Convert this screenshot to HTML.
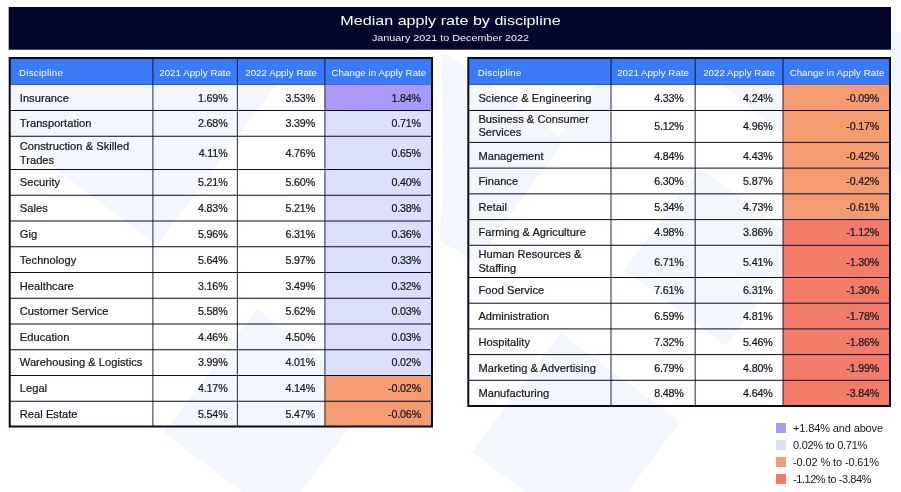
<!DOCTYPE html>
<html lang="en"><head><meta charset="utf-8"><title>Median apply rate by discipline</title>
<style>
html,body{margin:0;padding:0}
body{width:901px;height:492px;position:relative;overflow:hidden;background:#fff;font-family:"Liberation Sans",Arial,sans-serif;color:#16161f}
.wm{position:absolute;left:0;top:0;width:901px;height:492px}
.title{position:absolute;left:0;top:0;width:901px;height:60px;color:#fff;text-align:center}
.title svg{position:absolute;left:0;top:0}
.title .t1{position:absolute;left:0;right:0;top:12.2px;font-size:12.9px;line-height:18px;white-space:nowrap;transform:scaleX(1.25);transform-origin:450.5px 0}
.title .t2{position:absolute;left:0;right:0;top:32.2px;font-size:9.4px;line-height:12px;white-space:nowrap;color:#f1f2fa;transform:scaleX(1.15);transform-origin:450.5px 0}
.tbl{position:absolute}
.ov{position:absolute;left:0;top:0;z-index:1}
.hd{position:absolute;background:#397af6}
.hc{position:absolute;z-index:2;color:#fff;font-size:9.7px;display:flex;align-items:center;justify-content:center;white-space:nowrap;letter-spacing:.05px;padding-top:1px;box-sizing:border-box}
.hc.first{justify-content:flex-start}
.hc.first span{padding-left:10.4px;letter-spacing:.25px}
.c{position:absolute;z-index:2;font-size:11.1px;line-height:13.8px;display:flex;align-items:center;box-sizing:border-box;padding-top:2.4px;-webkit-text-stroke:.22px #16161f}
.c.two{padding-top:1.8px}
.c.name{padding-left:11.1px;letter-spacing:.04px}
.c.num{justify-content:flex-end;padding-right:10.5px;font-size:10.7px;letter-spacing:-.15px}
.c.num.last{padding-right:11.5px}
.lsq{position:absolute;left:776px;width:10px;height:10px}
.ltx{position:absolute;left:793px;font-size:11px;line-height:14px;white-space:nowrap;letter-spacing:-.05px}
</style></head><body>
<svg class="wm" viewBox="0 0 901 492"><g fill="#f3f6fd"><polygon points="9,57 297,57 157,245 9,134"/><polygon points="257,309 373,396 280,520 164,433"/><polygon points="561,333 680,422 591,541 472,452"/><polygon points="441,54 447,54 565,140 475,262 439,240 443,182"/><polygon points="596,84 611,84 611,142 556,142"/><polygon points="721,84 790,84 790,139"/><polygon points="892,32 901,32 901,176 892,170"/><polygon points="700,168 802,244 726,346 624,270"/></g>
</svg>
<div class="title"><svg width="901" height="60" viewBox="0 0 901 60"><rect x="8.7" y="7" width="882.3" height="42.7" fill="#05062c"/></svg><div class="t1">Median apply rate by discipline</div><div class="t2">January 2021 to December 2022</div></div>
<div class="tbl" id="tl" style="left:8px;top:57px;width:424.3px;height:370.5px">
<div class="hc first" style="left:0.7px;width:144.2px;top:2px;height:25.0px"><span>Discipline</span></div>
<div class="hc" style="left:144.9px;width:84.5px;top:2px;height:25.0px"><span>2021 Apply Rate</span></div>
<div class="hc" style="left:229.4px;width:87.5px;top:2px;height:25.0px"><span>2022 Apply Rate</span></div>
<div class="hc" style="left:316.9px;width:108.1px;top:2px;height:25.0px"><span>Change in Apply Rate</span></div>
<div class="c name" style="left:0.7px;width:144.2px;top:28.00px;height:25.00px"><span>Insurance</span></div>
<div class="c num" style="padding-right:9.9px;left:144.9px;width:84.5px;top:28.00px;height:25.00px"><span>1.69%</span></div>
<div class="c num" style="padding-right:9.9px;left:229.4px;width:87.5px;top:28.00px;height:25.00px"><span>3.53%</span></div>
<div class="c num" style="padding-right:12px;left:316.9px;width:108.1px;top:28.00px;height:25.00px"><span>1.84%</span></div>
<div class="c name" style="left:0.7px;width:144.2px;top:53.00px;height:24.75px"><span>Transportation</span></div>
<div class="c num" style="padding-right:9.9px;left:144.9px;width:84.5px;top:53.00px;height:24.75px"><span>2.68%</span></div>
<div class="c num" style="padding-right:9.9px;left:229.4px;width:87.5px;top:53.00px;height:24.75px"><span>3.39%</span></div>
<div class="c num" style="padding-right:12px;left:316.9px;width:108.1px;top:53.00px;height:24.75px"><span>0.71%</span></div>
<div class="c name two" style="left:0.7px;width:144.2px;top:79.75px;height:32.25px"><span>Construction &amp; Skilled<br>Trades</span></div>
<div class="c num" style="padding-right:9.9px;left:144.9px;width:84.5px;top:79.75px;height:32.25px"><span>4.11%</span></div>
<div class="c num" style="padding-right:9.9px;left:229.4px;width:87.5px;top:79.75px;height:32.25px"><span>4.76%</span></div>
<div class="c num" style="padding-right:12px;left:316.9px;width:108.1px;top:79.75px;height:32.25px"><span>0.65%</span></div>
<div class="c name" style="left:0.7px;width:144.2px;top:112.00px;height:24.75px"><span>Security</span></div>
<div class="c num" style="padding-right:9.9px;left:144.9px;width:84.5px;top:112.00px;height:24.75px"><span>5.21%</span></div>
<div class="c num" style="padding-right:9.9px;left:229.4px;width:87.5px;top:112.00px;height:24.75px"><span>5.60%</span></div>
<div class="c num" style="padding-right:12px;left:316.9px;width:108.1px;top:112.00px;height:24.75px"><span>0.40%</span></div>
<div class="c name" style="left:0.7px;width:144.2px;top:138.75px;height:24.75px"><span>Sales</span></div>
<div class="c num" style="padding-right:9.9px;left:144.9px;width:84.5px;top:138.75px;height:24.75px"><span>4.83%</span></div>
<div class="c num" style="padding-right:9.9px;left:229.4px;width:87.5px;top:138.75px;height:24.75px"><span>5.21%</span></div>
<div class="c num" style="padding-right:12px;left:316.9px;width:108.1px;top:138.75px;height:24.75px"><span>0.38%</span></div>
<div class="c name" style="left:0.7px;width:144.2px;top:164.50px;height:24.75px"><span>Gig</span></div>
<div class="c num" style="padding-right:9.9px;left:144.9px;width:84.5px;top:164.50px;height:24.75px"><span>5.96%</span></div>
<div class="c num" style="padding-right:9.9px;left:229.4px;width:87.5px;top:164.50px;height:24.75px"><span>6.31%</span></div>
<div class="c num" style="padding-right:12px;left:316.9px;width:108.1px;top:164.50px;height:24.75px"><span>0.36%</span></div>
<div class="c name" style="left:0.7px;width:144.2px;top:190.25px;height:24.75px"><span>Technology</span></div>
<div class="c num" style="padding-right:9.9px;left:144.9px;width:84.5px;top:190.25px;height:24.75px"><span>5.64%</span></div>
<div class="c num" style="padding-right:9.9px;left:229.4px;width:87.5px;top:190.25px;height:24.75px"><span>5.97%</span></div>
<div class="c num" style="padding-right:12px;left:316.9px;width:108.1px;top:190.25px;height:24.75px"><span>0.33%</span></div>
<div class="c name" style="left:0.7px;width:144.2px;top:216.00px;height:24.75px"><span>Healthcare</span></div>
<div class="c num" style="padding-right:9.9px;left:144.9px;width:84.5px;top:216.00px;height:24.75px"><span>3.16%</span></div>
<div class="c num" style="padding-right:9.9px;left:229.4px;width:87.5px;top:216.00px;height:24.75px"><span>3.49%</span></div>
<div class="c num" style="padding-right:12px;left:316.9px;width:108.1px;top:216.00px;height:24.75px"><span>0.32%</span></div>
<div class="c name" style="left:0.7px;width:144.2px;top:241.75px;height:24.75px"><span>Customer Service</span></div>
<div class="c num" style="padding-right:9.9px;left:144.9px;width:84.5px;top:241.75px;height:24.75px"><span>5.58%</span></div>
<div class="c num" style="padding-right:9.9px;left:229.4px;width:87.5px;top:241.75px;height:24.75px"><span>5.62%</span></div>
<div class="c num" style="padding-right:12px;left:316.9px;width:108.1px;top:241.75px;height:24.75px"><span>0.03%</span></div>
<div class="c name" style="left:0.7px;width:144.2px;top:267.50px;height:24.75px"><span>Education</span></div>
<div class="c num" style="padding-right:9.9px;left:144.9px;width:84.5px;top:267.50px;height:24.75px"><span>4.46%</span></div>
<div class="c num" style="padding-right:9.9px;left:229.4px;width:87.5px;top:267.50px;height:24.75px"><span>4.50%</span></div>
<div class="c num" style="padding-right:12px;left:316.9px;width:108.1px;top:267.50px;height:24.75px"><span>0.03%</span></div>
<div class="c name" style="left:0.7px;width:144.2px;top:292.25px;height:24.75px"><span>Warehousing &amp; Logistics</span></div>
<div class="c num" style="padding-right:9.9px;left:144.9px;width:84.5px;top:292.25px;height:24.75px"><span>3.99%</span></div>
<div class="c num" style="padding-right:9.9px;left:229.4px;width:87.5px;top:292.25px;height:24.75px"><span>4.01%</span></div>
<div class="c num" style="padding-right:12px;left:316.9px;width:108.1px;top:292.25px;height:24.75px"><span>0.02%</span></div>
<div class="c name" style="left:0.7px;width:144.2px;top:318.00px;height:24.75px"><span>Legal</span></div>
<div class="c num" style="padding-right:9.9px;left:144.9px;width:84.5px;top:318.00px;height:24.75px"><span>4.17%</span></div>
<div class="c num" style="padding-right:9.9px;left:229.4px;width:87.5px;top:318.00px;height:24.75px"><span>4.14%</span></div>
<div class="c num" style="padding-right:12px;left:316.9px;width:108.1px;top:318.00px;height:24.75px"><span>-0.02%</span></div>
<div class="c name" style="left:0.7px;width:144.2px;top:344.75px;height:24.25px"><span>Real Estate</span></div>
<div class="c num" style="padding-right:9.9px;left:144.9px;width:84.5px;top:344.75px;height:24.25px"><span>5.54%</span></div>
<div class="c num" style="padding-right:9.9px;left:229.4px;width:87.5px;top:344.75px;height:24.25px"><span>5.47%</span></div>
<div class="c num" style="padding-right:12px;left:316.9px;width:108.1px;top:344.75px;height:24.25px"><span>-0.06%</span></div>
<svg class="ov" style="left:-8px;top:-57px" width="901" height="492" viewBox="0 0 901 492"><defs><linearGradient id="pg" x1="0" y1="0" x2="1" y2="0"><stop offset="0" stop-color="#b198f6"/><stop offset="1" stop-color="#a59bf9"/></linearGradient></defs><g transform="translate(8.7,57.0)"><rect x="1" y="1" width="422.3" height="27.00" fill="#397af6"/><rect x="316.2" y="27.50" width="107.1" height="26.00" fill="url(#pg)"/><rect x="316.2" y="53.50" width="107.1" height="25.75" fill="#dcdffc"/><rect x="316.2" y="79.25" width="107.1" height="33.25" fill="#dcdffc"/><rect x="316.2" y="112.50" width="107.1" height="25.75" fill="#dcdffc"/><rect x="316.2" y="138.25" width="107.1" height="25.75" fill="#dcdffc"/><rect x="316.2" y="164.00" width="107.1" height="25.75" fill="#dcdffc"/><rect x="316.2" y="189.75" width="107.1" height="25.75" fill="#dcdffc"/><rect x="316.2" y="215.50" width="107.1" height="25.75" fill="#dcdffc"/><rect x="316.2" y="241.25" width="107.1" height="25.75" fill="#dcdffc"/><rect x="316.2" y="267.00" width="107.1" height="25.75" fill="#dcdffc"/><rect x="316.2" y="292.75" width="107.1" height="25.75" fill="#dcdffc"/><rect x="316.2" y="318.50" width="107.1" height="25.75" fill="#f59b71"/><rect x="316.2" y="344.25" width="107.1" height="25.25" fill="#f59b71"/><rect x="1" y="27.00" width="422.3" height="1" fill="#090a27" opacity=".28"/><rect x="1" y="53.00" width="422.3" height="1" fill="#090a27"/><rect x="1" y="78.75" width="422.3" height="1" fill="#090a27"/><rect x="1" y="112.00" width="422.3" height="1" fill="#090a27"/><rect x="1" y="137.75" width="422.3" height="1" fill="#090a27"/><rect x="1" y="163.50" width="422.3" height="1" fill="#090a27"/><rect x="1" y="189.25" width="422.3" height="1" fill="#090a27"/><rect x="1" y="215.00" width="422.3" height="1" fill="#090a27"/><rect x="1" y="240.75" width="422.3" height="1" fill="#090a27"/><rect x="1" y="266.50" width="422.3" height="1" fill="#090a27"/><rect x="1" y="292.25" width="422.3" height="1" fill="#090a27"/><rect x="1" y="318.00" width="422.3" height="1" fill="#090a27"/><rect x="1" y="343.75" width="422.3" height="1" fill="#090a27"/><rect x="143.65" y="1" width="1.1" height="368.5" fill="#090a27" opacity=".8"/><rect x="228.15" y="1" width="1.1" height="368.5" fill="#090a27" opacity=".8"/><rect x="315.65" y="1" width="1.1" height="368.5" fill="#090a27" opacity=".8"/><rect x="1" y="1" width="422.3" height="368.5" fill="none" stroke="#090a27" stroke-width="2"/></g></svg>
</div>
<div class="tbl" id="tr" style="left:467px;top:57px;width:423.7px;height:350.0px">
<div class="hc first" style="left:0.3px;width:143.7px;top:2px;height:25.0px"><span>Discipline</span></div>
<div class="hc" style="left:144.0px;width:84.2px;top:2px;height:25.0px"><span>2021 Apply Rate</span></div>
<div class="hc" style="left:228.2px;width:87.8px;top:2px;height:25.0px"><span>2022 Apply Rate</span></div>
<div class="hc" style="left:316.0px;width:108.0px;top:2px;height:25.0px"><span>Change in Apply Rate</span></div>
<div class="c name" style="left:0.3px;width:143.7px;top:28.00px;height:25.00px"><span>Science &amp; Engineering</span></div>
<div class="c num" style="padding-right:11.5px;left:144.0px;width:84.2px;top:28.00px;height:25.00px"><span>4.33%</span></div>
<div class="c num" style="padding-right:10.4px;left:228.2px;width:87.8px;top:28.00px;height:25.00px"><span>4.24%</span></div>
<div class="c num" style="padding-right:11.8px;left:316.0px;width:108.0px;top:28.00px;height:25.00px"><span>-0.09%</span></div>
<div class="c name two" style="left:0.3px;width:143.7px;top:53.00px;height:30.90px"><span>Business &amp; Consumer<br>Services</span></div>
<div class="c num" style="padding-right:11.5px;left:144.0px;width:84.2px;top:53.00px;height:30.90px"><span>5.12%</span></div>
<div class="c num" style="padding-right:10.4px;left:228.2px;width:87.8px;top:53.00px;height:30.90px"><span>4.96%</span></div>
<div class="c num" style="padding-right:11.8px;left:316.0px;width:108.0px;top:53.00px;height:30.90px"><span>-0.17%</span></div>
<div class="c name" style="left:0.3px;width:143.7px;top:85.90px;height:24.70px"><span>Management</span></div>
<div class="c num" style="padding-right:11.5px;left:144.0px;width:84.2px;top:85.90px;height:24.70px"><span>4.84%</span></div>
<div class="c num" style="padding-right:10.4px;left:228.2px;width:87.8px;top:85.90px;height:24.70px"><span>4.43%</span></div>
<div class="c num" style="padding-right:11.8px;left:316.0px;width:108.0px;top:85.90px;height:24.70px"><span>-0.42%</span></div>
<div class="c name" style="left:0.3px;width:143.7px;top:111.60px;height:24.75px"><span>Finance</span></div>
<div class="c num" style="padding-right:11.5px;left:144.0px;width:84.2px;top:111.60px;height:24.75px"><span>6.30%</span></div>
<div class="c num" style="padding-right:10.4px;left:228.2px;width:87.8px;top:111.60px;height:24.75px"><span>5.87%</span></div>
<div class="c num" style="padding-right:11.8px;left:316.0px;width:108.0px;top:111.60px;height:24.75px"><span>-0.42%</span></div>
<div class="c name" style="left:0.3px;width:143.7px;top:137.35px;height:24.75px"><span>Retail</span></div>
<div class="c num" style="padding-right:11.5px;left:144.0px;width:84.2px;top:137.35px;height:24.75px"><span>5.34%</span></div>
<div class="c num" style="padding-right:10.4px;left:228.2px;width:87.8px;top:137.35px;height:24.75px"><span>4.73%</span></div>
<div class="c num" style="padding-right:11.8px;left:316.0px;width:108.0px;top:137.35px;height:24.75px"><span>-0.61%</span></div>
<div class="c name" style="left:0.3px;width:143.7px;top:162.10px;height:24.70px"><span>Farming &amp; Agriculture</span></div>
<div class="c num" style="padding-right:11.5px;left:144.0px;width:84.2px;top:162.10px;height:24.70px"><span>4.98%</span></div>
<div class="c num" style="padding-right:10.4px;left:228.2px;width:87.8px;top:162.10px;height:24.70px"><span>3.86%</span></div>
<div class="c num" style="padding-right:11.8px;left:316.0px;width:108.0px;top:162.10px;height:24.70px"><span>-1.12%</span></div>
<div class="c name two" style="left:0.3px;width:143.7px;top:188.80px;height:31.20px"><span>Human Resources &amp;<br>Staffing</span></div>
<div class="c num" style="padding-right:11.5px;left:144.0px;width:84.2px;top:188.80px;height:31.20px"><span>6.71%</span></div>
<div class="c num" style="padding-right:10.4px;left:228.2px;width:87.8px;top:188.80px;height:31.20px"><span>5.41%</span></div>
<div class="c num" style="padding-right:11.8px;left:316.0px;width:108.0px;top:188.80px;height:31.20px"><span>-1.30%</span></div>
<div class="c name" style="left:0.3px;width:143.7px;top:220.00px;height:24.70px"><span>Food Service</span></div>
<div class="c num" style="padding-right:11.5px;left:144.0px;width:84.2px;top:220.00px;height:24.70px"><span>7.61%</span></div>
<div class="c num" style="padding-right:10.4px;left:228.2px;width:87.8px;top:220.00px;height:24.70px"><span>6.31%</span></div>
<div class="c num" style="padding-right:11.8px;left:316.0px;width:108.0px;top:220.00px;height:24.70px"><span>-1.30%</span></div>
<div class="c name" style="left:0.3px;width:143.7px;top:246.70px;height:24.70px"><span>Administration</span></div>
<div class="c num" style="padding-right:11.5px;left:144.0px;width:84.2px;top:246.70px;height:24.70px"><span>6.59%</span></div>
<div class="c num" style="padding-right:10.4px;left:228.2px;width:87.8px;top:246.70px;height:24.70px"><span>4.81%</span></div>
<div class="c num" style="padding-right:11.8px;left:316.0px;width:108.0px;top:246.70px;height:24.70px"><span>-1.78%</span></div>
<div class="c name" style="left:0.3px;width:143.7px;top:272.40px;height:24.70px"><span>Hospitality</span></div>
<div class="c num" style="padding-right:11.5px;left:144.0px;width:84.2px;top:272.40px;height:24.70px"><span>7.32%</span></div>
<div class="c num" style="padding-right:10.4px;left:228.2px;width:87.8px;top:272.40px;height:24.70px"><span>5.46%</span></div>
<div class="c num" style="padding-right:11.8px;left:316.0px;width:108.0px;top:272.40px;height:24.70px"><span>-1.86%</span></div>
<div class="c name" style="left:0.3px;width:143.7px;top:298.10px;height:24.70px"><span>Marketing &amp; Advertising</span></div>
<div class="c num" style="padding-right:11.5px;left:144.0px;width:84.2px;top:298.10px;height:24.70px"><span>6.79%</span></div>
<div class="c num" style="padding-right:10.4px;left:228.2px;width:87.8px;top:298.10px;height:24.70px"><span>4.80%</span></div>
<div class="c num" style="padding-right:11.8px;left:316.0px;width:108.0px;top:298.10px;height:24.70px"><span>-1.99%</span></div>
<div class="c name" style="left:0.3px;width:143.7px;top:323.80px;height:24.70px"><span>Manufacturing</span></div>
<div class="c num" style="padding-right:11.5px;left:144.0px;width:84.2px;top:323.80px;height:24.70px"><span>8.48%</span></div>
<div class="c num" style="padding-right:10.4px;left:228.2px;width:87.8px;top:323.80px;height:24.70px"><span>4.64%</span></div>
<div class="c num" style="padding-right:11.8px;left:316.0px;width:108.0px;top:323.80px;height:24.70px"><span>-3.84%</span></div>
<svg class="ov" style="left:-467px;top:-57px" width="901" height="492" viewBox="0 0 901 492"><defs><linearGradient id="pg" x1="0" y1="0" x2="1" y2="0"><stop offset="0" stop-color="#b198f6"/><stop offset="1" stop-color="#a59bf9"/></linearGradient></defs><g transform="translate(467.3,57.0)"><rect x="1" y="1" width="421.7" height="27.00" fill="#397af6"/><rect x="315.7" y="27.50" width="107.0" height="26.00" fill="#f59b71"/><rect x="315.7" y="53.50" width="107.0" height="31.90" fill="#f59b71"/><rect x="315.7" y="85.40" width="107.0" height="25.70" fill="#f59b71"/><rect x="315.7" y="111.10" width="107.0" height="25.75" fill="#f59b71"/><rect x="315.7" y="136.85" width="107.0" height="25.75" fill="#f59b71"/><rect x="315.7" y="162.60" width="107.0" height="25.70" fill="#f27b69"/><rect x="315.7" y="188.30" width="107.0" height="32.20" fill="#f27b69"/><rect x="315.7" y="220.50" width="107.0" height="25.70" fill="#f27b69"/><rect x="315.7" y="246.20" width="107.0" height="25.70" fill="#f27b69"/><rect x="315.7" y="271.90" width="107.0" height="25.70" fill="#f27b69"/><rect x="315.7" y="297.60" width="107.0" height="25.70" fill="#f27b69"/><rect x="315.7" y="323.30" width="107.0" height="25.70" fill="#f27b69"/><rect x="1" y="27.00" width="421.7" height="1" fill="#090a27" opacity=".28"/><rect x="1" y="53.00" width="421.7" height="1" fill="#090a27"/><rect x="1" y="84.90" width="421.7" height="1" fill="#090a27"/><rect x="1" y="110.60" width="421.7" height="1" fill="#090a27"/><rect x="1" y="136.35" width="421.7" height="1" fill="#090a27"/><rect x="1" y="162.10" width="421.7" height="1" fill="#090a27"/><rect x="1" y="187.80" width="421.7" height="1" fill="#090a27"/><rect x="1" y="220.00" width="421.7" height="1" fill="#090a27"/><rect x="1" y="245.70" width="421.7" height="1" fill="#090a27"/><rect x="1" y="271.40" width="421.7" height="1" fill="#090a27"/><rect x="1" y="297.10" width="421.7" height="1" fill="#090a27"/><rect x="1" y="322.80" width="421.7" height="1" fill="#090a27"/><rect x="143.15" y="1" width="1.1" height="348.0" fill="#090a27" opacity=".8"/><rect x="227.35" y="1" width="1.1" height="348.0" fill="#090a27" opacity=".8"/><rect x="315.15" y="1" width="1.1" height="348.0" fill="#090a27" opacity=".8"/><rect x="1" y="1" width="421.7" height="348.0" fill="none" stroke="#090a27" stroke-width="2"/></g></svg>
</div>
<div class="lsq" style="top:423px;background:#a99af6"></div><div class="ltx" style="top:420.9px;letter-spacing:-0.13px">+1.84% and above</div><div class="lsq" style="top:440px;background:#d9e0fa"></div><div class="ltx" style="top:437.9px;letter-spacing:-0.26px">0.02% to 0.71%</div><div class="lsq" style="top:457px;background:#f59b71"></div><div class="ltx" style="top:454.9px;letter-spacing:-0.12px">-0.02 % to -0.61%</div><div class="lsq" style="top:474px;background:#f27b69"></div><div class="ltx" style="top:471.9px;letter-spacing:-0.44px">-1.12% to -3.84%</div>
</body></html>
